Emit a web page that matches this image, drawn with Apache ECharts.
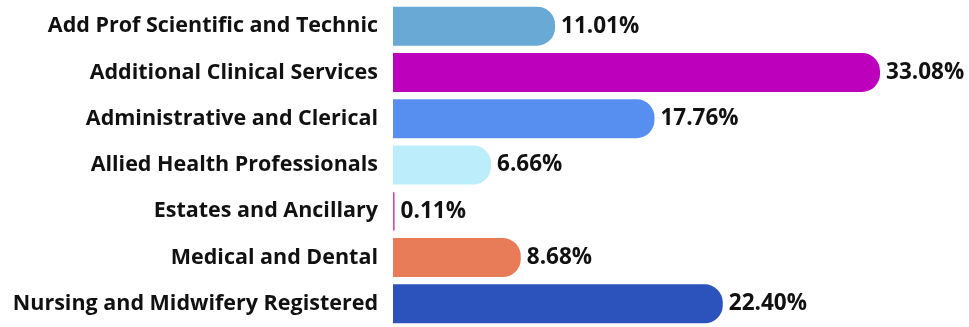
<!DOCTYPE html>
<html>
<head>
<meta charset="utf-8">
<script src="https://cdn.jsdelivr.net/npm/echarts@6/dist/echarts.min.js"></script>
<style>
  html, body { margin: 0; padding: 0; background: #ffffff; }
  #chart { width: 969px; height: 327px; }
</style>
</head>
<body>
<div id="chart"></div>
<script>
// Staff group share (%), top to bottom
const categories = [
  'Add Prof Scientific and Technic',
  'Additional Clinical Services',
  'Administrative and Clerical',
  'Allied Health Professionals',
  'Estates and Ancillary',
  'Medical and Dental',
  'Nursing and Midwifery Registered'
];
const shares = [11.01, 33.08, 17.76, 6.66, 0.11, 8.68, 22.40];
const barColors = ['#68A9D6', '#BC00BC', '#578FF0', '#BBEDFB', '#E0489C', '#E97C58', '#2C53BB'];

const chart = echarts.init(document.getElementById('chart'), null, { renderer: 'canvas' });

const font = '"Open Sans", Lato, sans-serif';

chart.setOption({
  animation: false,
  backgroundColor: '#ffffff',
  grid: { left: 393, top: 3, width: 530, height: 329, containLabel: false },
  xAxis: {
    type: 'value',
    min: 0,
    max: 36,
    show: false
  },
  yAxis: {
    type: 'category',
    inverse: true,
    data: categories,
    axisLine: { show: false },
    axisTick: { show: false },
    splitLine: { show: false },
    axisLabel: {
      margin: 15,
      color: '#111111',
      fontFamily: font,
      fontWeight: 'bold',
      fontSize: 21.5
    }
  },
  series: [{
    type: 'bar',
    barWidth: 39,
    data: shares.map((v, i) => ({
      value: v,
      itemStyle: { color: barColors[i] }
    })),
    itemStyle: { borderRadius: [0, 18, 18, 0] },
    label: {
      show: true,
      position: 'right',
      distance: 6,
      color: '#111111',
      fontFamily: font,
      fontWeight: 'bold',
      fontSize: 22.5,
      formatter: p => p.value.toFixed(2) + '%'
    }
  }]
});
</script>
</body>
</html>
